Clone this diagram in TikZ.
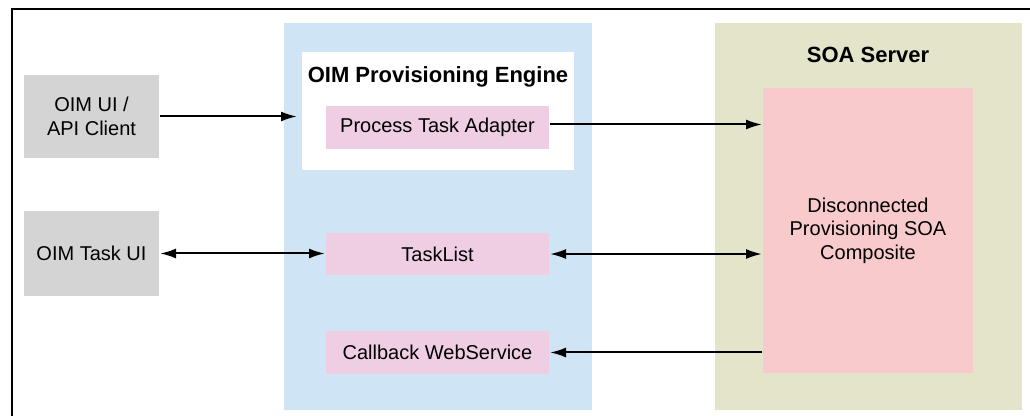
\documentclass[tikz,border=0pt]{standalone}
\usepackage{fontspec}
\setmainfont{Liberation Sans}
\usetikzlibrary{positioning}
\usetikzlibrary{arrows.meta}

\definecolor{boxgray}{HTML}{D4D4D4}
\definecolor{boxblue}{HTML}{CFE4F4}
\definecolor{boxpink}{HTML}{EFCEE4}
\definecolor{boxrose}{HTML}{F8CACB}
\definecolor{boxolive}{HTML}{E4E4CB}

\begin{document}
\begin{tikzpicture}[x=0.5pt,y=-0.5pt,
        >={Latex[length=8pt,width=5pt]},
        line width=1pt,
        box/.style = {fill=#1,inner sep=0pt,align=center,
            font=\fontsize{10}{11.75}\selectfont},
        panel/.style = {fill=#1,inner sep=0pt},
        title/.style = {font=\fontsize{11}{13}\selectfont\bfseries}]
    \useasboundingbox (0,0) rectangle (1030,416);
    \draw (12,9) rectangle (1040,430);
    % left side clients
    \node[box=boxgray,minimum width=67.5pt,minimum height=41.5pt] (apiclient) at (91.5,116.5) {OIM UI /\\API Client};
    \node[box=boxgray,minimum width=67.5pt,minimum height=42.5pt,below=25.5pt of apiclient] (taskui) {OIM Task UI};
    % provisioning engine
    \node[panel=boxblue,minimum width=154pt,minimum height=193.5pt] (engine) at (438,216.5) {};
    \node[panel=white,minimum width=136pt,minimum height=59pt] (inner) at (438,111) {};
    \node[title] (enginetitle) at (438,77) {OIM Provisioning Engine};
    \node[box=boxpink,minimum width=111.5pt,minimum height=21.5pt] (process) at (437.5,127.5) {Process Task Adapter};
    \node[box=boxpink,minimum width=111.5pt,minimum height=21pt,below=41pt of process] (tasklist) {TaskList};
    \node[box=boxpink,minimum width=111.5pt,minimum height=21.5pt,below=27pt of tasklist] (callback) {Callback WebService};
    % soa server
    \node[panel=boxolive,minimum width=153.5pt,minimum height=193.5pt] (soa) at (868.5,216.5) {};
    \node[title] (soatitle) at (868,55) {SOA Server};
    \node[box=boxrose,minimum width=105pt,minimum height=142.5pt] (composite) at (868,230.5) {Disconnected\\Provisioning SOA\\Composite};
    % connectors
    \draw[->,shorten >=2pt] (apiclient.east) -- (apiclient.east -| inner.west);
    \draw[->] ([yshift=1.5pt]process.east) -- ([yshift=1.5pt]process.east -| composite.west);
    \draw[<->] (taskui.east) -- (taskui.east -| tasklist.west);
    \draw[<->] (tasklist.east) -- (tasklist.east -| composite.west);
    \draw[->] (callback.east -| composite.west) -- (callback.east);
\end{tikzpicture}
\end{document}
